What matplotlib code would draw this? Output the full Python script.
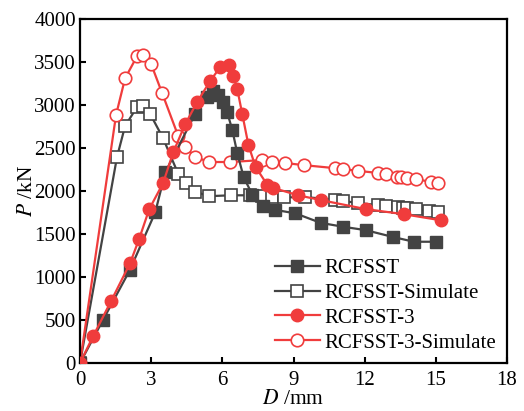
"""
Load-displacement curves for RCFSST specimens: test vs. simulation.
"""

import matplotlib.pyplot as plt

# RCFSST (test)
rc_x = [0, 0.97, 2.1, 3.17, 3.6, 4.86, 5.36, 5.6, 5.83, 6.04, 6.2, 6.42, 6.63, 6.9,
        7.27, 7.73, 8.24, 9.08, 10.14, 11.07, 12.04, 13.2, 14.07, 15.0]
rc_y = [0, 500, 1080, 1750, 2220, 2900, 3090, 3160, 3120, 3030, 2920, 2710, 2440, 2160,
        1955, 1830, 1780, 1740, 1630, 1585, 1545, 1465, 1410, 1410]

# RCFSST-Simulate
rc_sim_x = [0, 1.56, 1.9, 2.4, 2.66, 2.96, 3.5, 4.14, 4.48, 4.86, 5.45, 6.36, 7.18, 7.69,
            8.1, 8.62, 9.5, 10.77, 11.1, 11.7, 12.55, 12.9, 13.4, 13.6, 13.8, 14.15, 14.7, 15.08]
rc_sim_y = [0, 2395, 2755, 2975, 2990, 2895, 2615, 2200, 2090, 1990, 1940, 1950, 1950, 1940,
            1930, 1925, 1930, 1895, 1885, 1860, 1837, 1826, 1814, 1802, 1800, 1790, 1767, 1756]

# RCFSST-3 (test)
rc3_x = [0, 0.55, 1.31, 2.11, 2.49, 2.92, 3.5, 3.93, 4.44, 4.94, 5.49, 5.91, 6.3, 6.46,
         6.63, 6.84, 7.1, 7.4, 7.9, 8.15, 9.2, 10.14, 12.04, 13.65, 15.2]
rc3_y = [0, 310, 720, 1160, 1440, 1790, 2090, 2450, 2780, 3035, 3280, 3440, 3465, 3340,
         3185, 2895, 2535, 2280, 2070, 2035, 1950, 1895, 1790, 1730, 1660]

# RCFSST-3-Simulate
rc3_sim_x = [0, 1.52, 1.9, 2.41, 2.66, 3.0, 3.46, 4.14, 4.44, 4.86, 5.45, 6.34, 7.69, 8.1,
             8.66, 9.46, 10.77, 11.1, 11.7, 12.55, 12.9, 13.35, 13.52, 13.77, 14.15, 14.79, 15.08]
rc3_sim_y = [0, 2885, 3310, 3570, 3580, 3475, 3140, 2640, 2510, 2395, 2337, 2337, 2360, 2337,
             2325, 2300, 2265, 2255, 2235, 2210, 2195, 2163, 2158, 2150, 2140, 2105, 2093]

x_ticks = [0, 3, 6, 9, 12, 15, 18]
y_ticks = [0, 500, 1000, 1500, 2000, 2500, 3000, 3500, 4000]

DARK = "#434343"
RED = "#f03c3c"

plt.rcParams["font.family"] = ["Liberation Serif", "DejaVu Serif"]
plt.rcParams["mathtext.fontset"] = "stix"

fig = plt.figure(figsize=(5.24, 4.11), dpi=100)
ax = fig.add_axes([80 / 524, 48 / 411, 427 / 524, 344 / 411])

lw = 1.6
ax.plot(rc_x, rc_y, color=DARK, lw=lw, marker="s", ms=8.5, mfc=DARK, mec=DARK,
        label="RCFSST", zorder=3)
ax.plot(rc_sim_x, rc_sim_y, color=DARK, lw=lw, marker="s", ms=8, mfc="white", mec=DARK,
        mew=1.2, label="RCFSST-Simulate", zorder=2)
ax.plot(rc3_x, rc3_y, color=RED, lw=lw, marker="o", ms=9, mfc=RED, mec=RED,
        label="RCFSST-3", zorder=4)
ax.plot(rc3_sim_x, rc3_sim_y, color=RED, lw=lw, marker="o", ms=9, mfc="white", mec=RED,
        mew=1.2, label="RCFSST-3-Simulate", zorder=2)

ax.set_xlim(0, 18)
ax.set_ylim(0, 4000)
ax.set_xticks(x_ticks)
ax.set_yticks(y_ticks)
ax.tick_params(direction="in", length=4, width=1.5, labelsize=15, pad=3)
ax.tick_params(axis="x", pad=6)
for s in ax.spines.values():
    s.set_linewidth(1.6)

ax.set_xlabel("$D$ /mm", fontsize=15.5, labelpad=0)
ax.set_ylabel("$P$ /kN", fontsize=15.5)
ax.yaxis.set_label_coords(-0.1, 0.5)

ax.legend(loc="lower right", bbox_to_anchor=(1.0, 0.0), frameon=False, fontsize=15,
          handlelength=2.15, handletextpad=0.25, labelspacing=0.25, borderaxespad=0.1)

fig.savefig("out.png", dpi=100, facecolor="white")
